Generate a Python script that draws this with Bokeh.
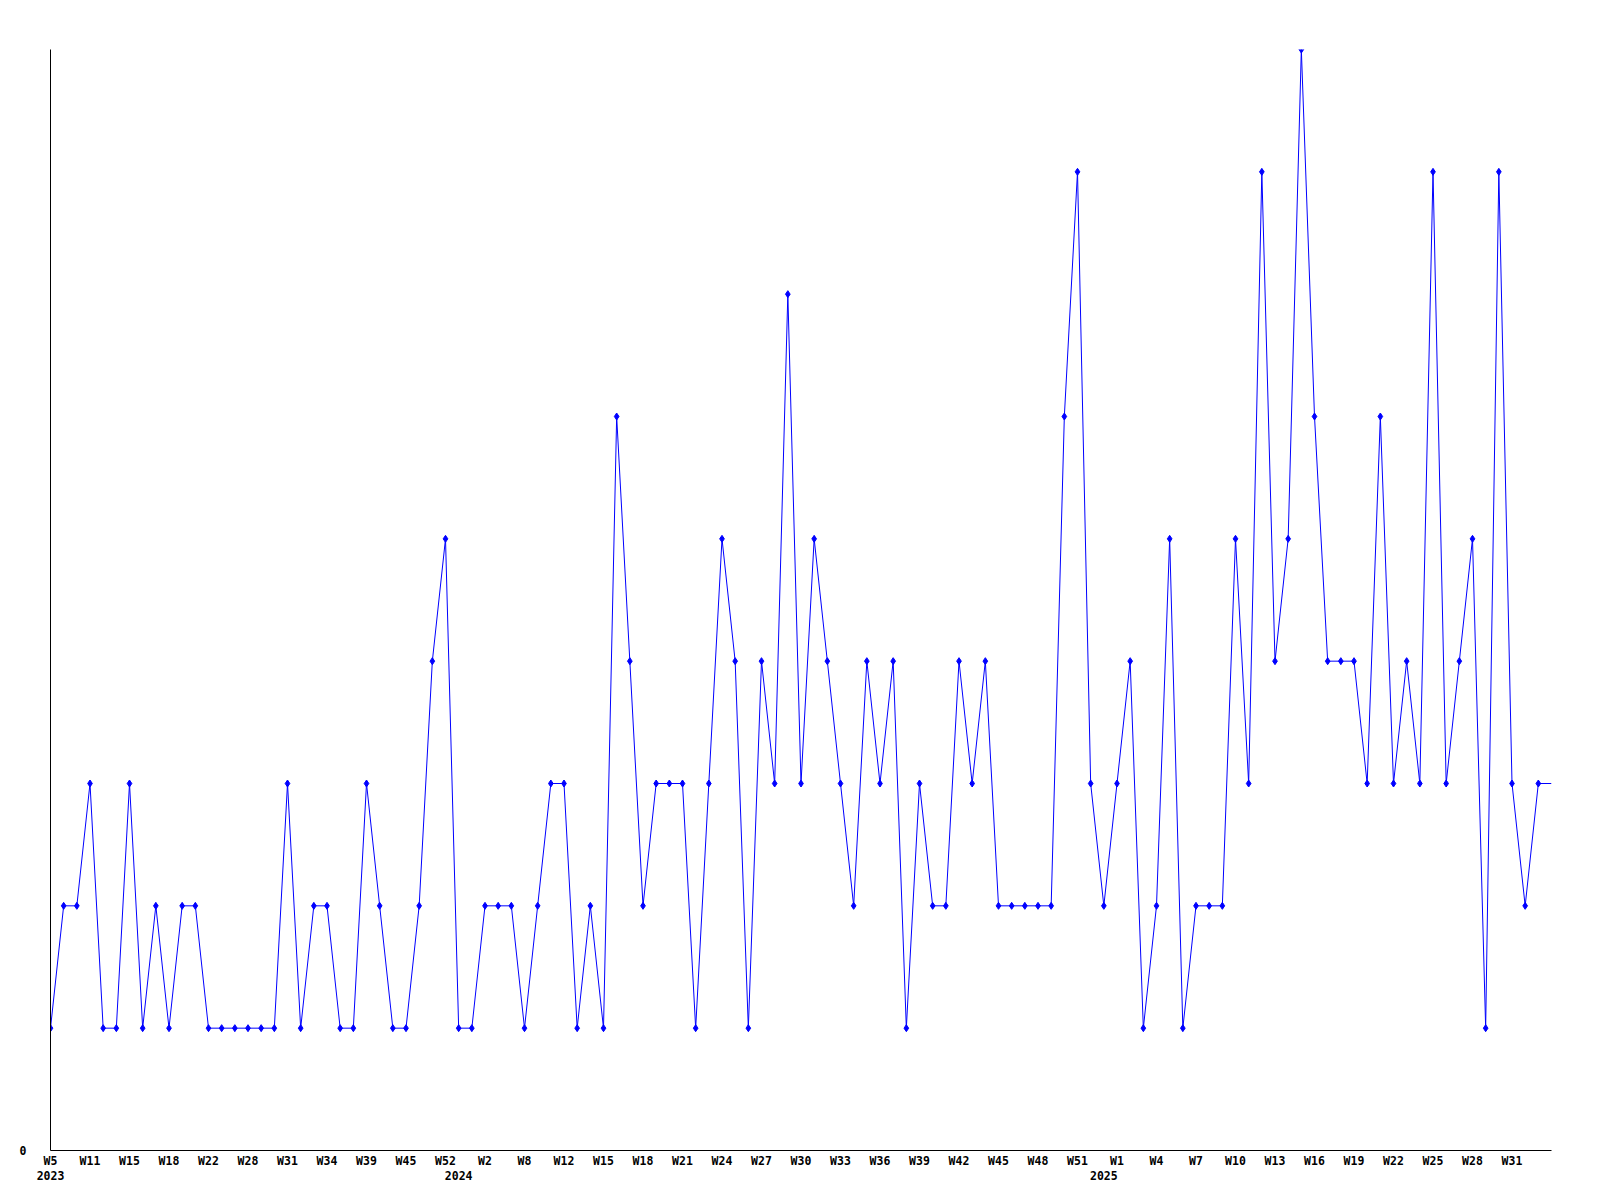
from bokeh.plotting import figure
from bokeh.models import Range1d, FixedTicker, LinearAxis
from bokeh.embed import file_html
from bokeh.resources import INLINE

# weekly counts (one point per week that has data)
values = [1, 2, 2, 3, 1, 1, 3, 1, 2, 1,
          2, 2, 1, 1, 1, 1, 1, 1, 3, 1,
          2, 2, 1, 1, 3, 2, 1, 1, 2, 4,
          5, 1, 1, 2, 2, 2, 1, 2, 3, 3,
          1, 2, 1, 6, 4, 2, 3, 3, 3, 1,
          3, 5, 4, 1, 4, 3, 7, 3, 5, 4,
          3, 2, 4, 3, 4, 1, 3, 2, 2, 4,
          3, 4, 2, 2, 2, 2, 2, 6, 8, 3,
          2, 3, 4, 1, 2, 5, 1, 2, 2, 2,
          5, 3, 8, 4, 5, 9, 6, 4, 4, 4,
          3, 6, 3, 4, 3, 8, 3, 4, 5, 1,
          8, 3, 2, 3, 3]

# week tick labels, one for every third point
week_labels = ["W5", "W11", "W15", "W18", "W22", "W28", "W31", "W34", "W39", "W45", "W52",
               "W2", "W8", "W12", "W15", "W18", "W21", "W24", "W27", "W30", "W33", "W36",
               "W39", "W42", "W45", "W48", "W51",
               "W1", "W4", "W7", "W10", "W13", "W16", "W19", "W22", "W25", "W28", "W31"]
label_step = 3

years = ["2023", "2024", "2025"]
year_points = [0, 31, 80]

y_max = 9

FONT = "DejaVu Sans Mono"
FSIZE = "11.5px"

n = len(values)
xs = list(range(n))

p = figure(width=1592, height=1187, output_backend="svg", toolbar_location=None,
           x_range=Range1d(0, n - 1), y_range=Range1d(0, y_max),
           x_axis_type=None, y_axis_type=None,
           min_border_left=50, min_border_right=41, min_border_top=49, min_border_bottom=37)
p.outline_line_color = None
p.background_fill_color = "white"
p.border_fill_color = "white"

p.line(xs, values, line_color="#0000ff", line_width=1)
p.scatter(xs[:-1], values[:-1], marker="diamond", size=7,
          fill_color="#0000ff", line_color="#0000ff", line_width=1)


def style_axis(ax, standoff, line_color):
    ax.axis_line_color = line_color
    ax.axis_line_width = 1
    ax.major_tick_line_color = None
    ax.minor_tick_line_color = None
    ax.major_tick_out = 0
    ax.major_tick_in = 0
    ax.minor_tick_out = 0
    ax.minor_tick_in = 0
    ax.major_label_standoff = standoff
    ax.major_label_text_font = FONT
    ax.major_label_text_font_style = "bold"
    ax.major_label_text_font_size = FSIZE
    ax.major_label_text_color = "black"


tick_pos = [i * label_step for i in range(len(week_labels))]
xaxis = LinearAxis(ticker=FixedTicker(ticks=tick_pos),
                   major_label_overrides={t: l for t, l in zip(tick_pos, week_labels)})
style_axis(xaxis, 3, "black")
p.add_layout(xaxis, "below")

year_axis = LinearAxis(ticker=FixedTicker(ticks=year_points),
                       major_label_overrides={t: l for t, l in zip(year_points, years)})
style_axis(year_axis, 0, None)
p.add_layout(year_axis, "below")

yaxis = LinearAxis(ticker=FixedTicker(ticks=[0]))
style_axis(yaxis, 24, "black")
p.add_layout(yaxis, "left")

open("out.html", "w").write(file_html(p, INLINE))
